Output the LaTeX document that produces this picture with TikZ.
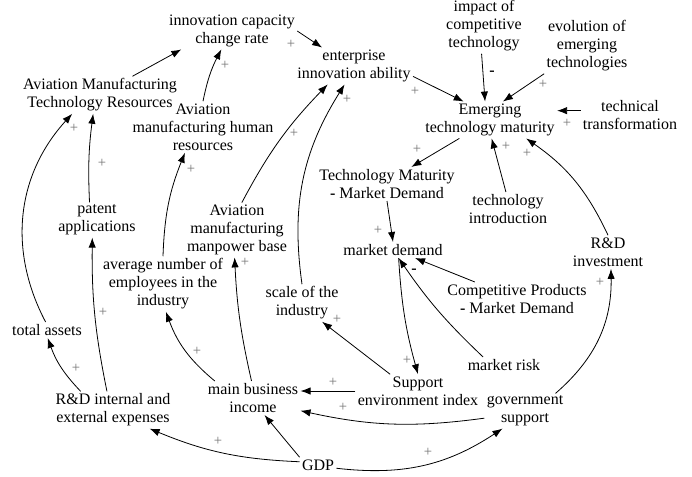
\documentclass[tikz,border=0pt]{standalone}
\usepackage{fontspec}
\setmainfont{Liberation Serif}
\usetikzlibrary{arrows.meta}
\definecolor{signgray}{gray}{0.45}

\begin{document}
\begin{tikzpicture}[x=0.75pt,y=0.75pt,line width=0.6pt,
  >={Latex[length=7.5pt,width=5.5pt]},
  var/.style={align=center,font=\rmfamily\fontsize{12}{13.5}\selectfont,inner sep=1.5pt},
  plus/.style={text=signgray,font=\rmfamily\fontsize{11}{11}\selectfont,inner sep=0pt},
  minus/.style={font=\rmfamily\bfseries\fontsize{12}{12}\selectfont,inner sep=0pt}]
  \useasboundingbox (0,0) rectangle (692,476);
  % variables
  \node[var] (rate) at (232,445) {innovation capacity\\change rate};
  \node[var] (ability) at (354,410) {enterprise\\innovation ability};
  \node[var] (techres) at (100,381) {Aviation Manufacturing\\Technology Resources};
  \node[var] (humres) at (203,349) {Aviation\\manufacturing human\\resources};
  \node[var] (impact) at (484,450) {impact of\\competitive\\technology};
  \node[var] (evol) at (587,430) {evolution of\\emerging\\technologies};
  \node[var] (maturity) at (490,356) {Emerging\\technology maturity};
  \node[var] (transf) at (630,361) {technical\\transformation};
  \node[var] (tmmd) at (387,292) {Technology Maturity\\\textbf{-} Market Demand};
  \node[var] (intro) at (508,267) {technology\\introduction};
  \node[var] (demand) at (393,226) {market demand};
  \node[var] (rdinv) at (608,224) {R\&D\\investment};
  \node[var] (cpmd) at (517,177) {Competitive Products\\\textbf{-} Market Demand};
  \node[var] (scale) at (302,173) {scale of the\\industry};
  \node[var] (risk) at (504,111) {market risk};
  \node[var] (support) at (418,85) {Support\\environment index};
  \node[var] (gov) at (525,65) {government\\support};
  \node[var] (income) at (253,78) {main business\\income};
  \node[var] (gdp) at (318,11) {GDP};
  \node[var] (rdexp) at (113,66) {R\&D internal and\\external expenses};
  \node[var] (assets) at (47,146) {total assets};
  \node[var] (employees) at (163,192) {average number of\\employees in the\\industry};
  \node[var] (patent) at (97,256) {patent\\applications};
  \node[var] (manpower) at (237,246) {Aviation\\manufacturing\\manpower base};

  % links
  \draw[->] (techres.30) -- (rate.200);
  \draw[->] (humres.north) to[bend left=8] (rate.240);
  \draw[->] (rate.east) -- (ability.150);
  \draw[->] (manpower.80) to[bend left=8] (ability.215);
  \draw[->] (scale.north) to[bend left=20] (ability.243);
  \draw[->] (ability.-10) -- (maturity.145);
  \draw[->] (impact.265) -- (maturity.105);
  \draw[->] (evol.south west) -- (maturity.55);
  \draw[->] (transf.175) -- (transf.175 -| maturity.east);
  \draw[->] (intro.97) -- (maturity.-85);
  \draw[->] (rdinv.north) to[bend right=15] (maturity.-27);
  \draw[->] (maturity.211) -- (tmmd.35);
  \draw[->] (tmmd.south) -- (demand.north);
  \draw[->] (cpmd.158) -- (demand.-20);
  \draw[->] (risk.159) to[bend left=6] (demand.-55);
  \draw[->] (demand.-55) to[bend right=6] (support.north);
  \draw[->] (support.149) -- (scale.-43);
  \draw[->] (support.west) -- (support.west -| income.east);
  \draw[->] (gov.190) to[bend left=10] (income.-15);
  \draw[->] (gdp.north west) -- (income.-56);
  \draw[->] (gdp.170) to[bend left=10] (rdexp.-27);
  \draw[->] (gdp.-10) to[bend right=20] (gov.218);
  \draw[->] (gov.30) to[bend right=25] (rdinv.-80);
  \draw[->] (income.95) to[bend left=5] (manpower.-95);
  \draw[->] (income.156) to[bend left=15] (employees.-84);
  \draw[->] (rdexp.150) to[bend left=12] (assets.-85);
  \draw[->] (rdexp.108) to[bend left=6] (patent.-105);
  \draw[->] (assets.100) to[bend left=35] (techres.214);
  \draw[->] (patent.113) to[bend left=5] (techres.-110);
  \draw[->] (employees.north) to[bend left=10] (humres.-125);

  % polarities
  \foreach \x/\y [count=\i] in {225/411,291/432,294/343,347/377,415/385,
      543/392,567/353,506/330,527/323,417/327,378/246,407/116,337/157,
      333/94,343/69,218/35,428/24,600/194,245/214,197/125,76/108,
      103/164,74/348,102/313,191/307}
    \node[plus] (p\i) at (\x,\y) {+};
  \node[minus] (m1) at (492,403) {-};
  \node[minus] (m2) at (414,205) {-};
\end{tikzpicture}
\end{document}
